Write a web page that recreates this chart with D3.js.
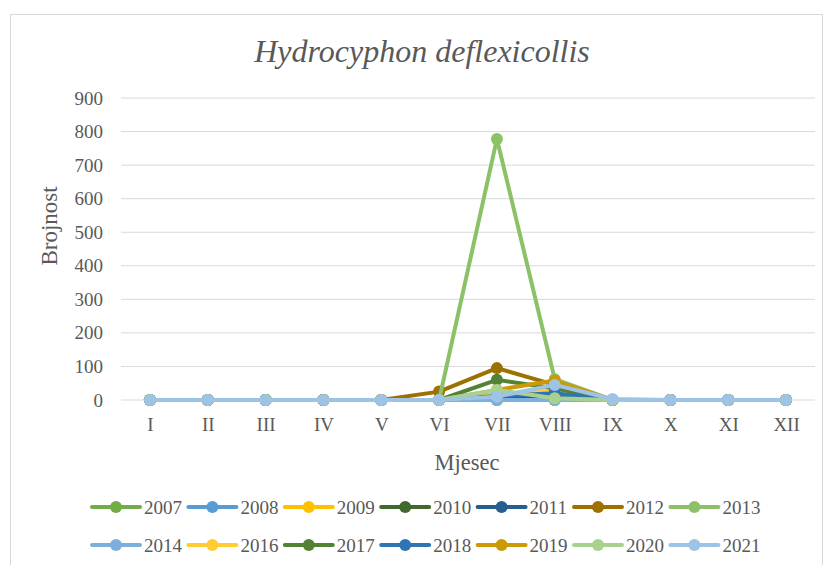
<!DOCTYPE html>
<html>
<head>
<meta charset="utf-8">
<script src="https://cdn.jsdelivr.net/npm/d3@7"></script>
<style>
  body { margin: 0; background: #fff; }
  svg text { font-family: "Liberation Serif", "Times New Roman", serif !important; fill: #595959; }
</style>
</head>
<body>
<div id="chart"></div>
<script>
// monthly counts
const months = ['I', 'II', 'III', 'IV', 'V', 'VI', 'VII', 'VIII', 'IX', 'X', 'XI', 'XII'];
const years = ['2007', '2008', '2009', '2010', '2011', '2012', '2013',
  '2014', '2016', '2017', '2018', '2019', '2020', '2021'];
const yTicks = [0, 100, 200, 300, 400, 500, 600, 700, 800, 900];

const c2007 = [0, 0, 0, 0, 0, 0, 0, 0, 0, 0, 0, 0];
const c2008 = [0, 0, 0, 0, 0, 0, 0, 0, 0, 0, 0, 0];
const c2009 = [0, 0, 0, 0, 0, 0, 0, 0, 0, 0, 0, 0];
const c2010 = [0, 0, 0, 0, 0, 0, 10, 5, 0, 0, 0, 0];
const c2011 = [0, 0, 0, 0, 0, 0, 5, 8, 0, 0, 0, 0];
const c2012 = [0, 0, 0, 0, 0, 25, 95, 45, 0, 0, 0, 0];
const c2013 = [0, 0, 0, 0, 0, 0, 778, 62, 0, 0, 0, 0];
const c2014 = [0, 0, 0, 0, 0, 0, 0, 0, 0, 0, 0, 0];
const c2016 = [0, 0, 0, 0, 0, 0, 15, 30, 0, 0, 0, 0];
const c2017 = [0, 0, 0, 0, 0, 0, 60, 35, 0, 0, 0, 0];
const c2018 = [0, 0, 0, 0, 0, 0, 12, 20, 0, 0, 0, 0];
const c2019 = [0, 0, 0, 0, 0, 0, 30, 58, 0, 0, 0, 0];
const c2020 = [0, 0, 0, 0, 0, 0, 30, 5, 0, 0, 0, 0];
const c2021 = [0, 0, 0, 0, 0, 0, 10, 45, 3, 0, 0, 0];

const colors = ['#70AD47', '#5B9BD5', '#FFC000', '#43682B', '#255E91', '#9E7000', '#8CC168',
  '#7CAFDD', '#FFCD33', '#548235', '#2E75B6', '#CC9A06', '#A9D18E', '#9DC3E6'];

const series = years.map((y, i) => ({
  name: y,
  color: colors[i],
  values: [c2007, c2008, c2009, c2010, c2011, c2012, c2013,
    c2014, c2016, c2017, c2018, c2019, c2020, c2021][i]
}));

const W = 826, H = 565;
const svg = d3.select('#chart').append('svg')
  .attr('width', W)
  .attr('height', H);

// chart frame
svg.append('rect')
  .attr('x', 10.5).attr('y', 14.5)
  .attr('width', 812).attr('height', 560)
  .attr('fill', '#fff')
  .attr('stroke', '#D9D9D9');

const x = d3.scalePoint()
  .domain(months)
  .range([121, 815])
  .padding(0.5);

const y = d3.scaleLinear()
  .domain([0, 900])
  .range([400, 98]);

// gridlines
svg.append('g')
  .selectAll('line')
  .data(yTicks.slice(1))
  .enter().append('line')
  .attr('x1', 121).attr('x2', 815)
  .attr('y1', d => y(d)).attr('y2', d => y(d))
  .attr('stroke', '#D9D9D9')
  .attr('stroke-width', 1);

// y axis labels
const yAxis = svg.append('g')
  .attr('transform', 'translate(121,0)')
  .call(d3.axisLeft(y).tickValues(yTicks).tickSize(0).tickPadding(18));
yAxis.select('.domain').remove();
yAxis.selectAll('text')
  .attr('font-size', 19)
  .attr('fill', '#595959');

// x axis
const xAxis = svg.append('g')
  .attr('transform', 'translate(0,400)')
  .call(d3.axisBottom(x).tickSize(0).tickPadding(18));
xAxis.select('.domain')
  .attr('d', 'M121,0H815')
  .attr('stroke', '#D9D9D9');
xAxis.selectAll('text')
  .attr('font-size', 19)
  .attr('fill', '#595959');

// title + axis titles
svg.append('text')
  .attr('x', 422).attr('y', 62)
  .attr('text-anchor', 'middle')
  .attr('font-size', 32)
  .attr('font-style', 'italic')
  .text('Hydrocyphon deflexicollis');

svg.append('text')
  .attr('transform', 'translate(57,226) rotate(-90)')
  .attr('text-anchor', 'middle')
  .attr('font-size', 23)
  .text('Brojnost');

svg.append('text')
  .attr('x', 467).attr('y', 470)
  .attr('text-anchor', 'middle')
  .attr('font-size', 22.5)
  .text('Mjesec');

// lines + markers
const line = d3.line()
  .x((d, i) => x(months[i]))
  .y(d => y(d));

const sg = svg.append('g')
  .selectAll('g')
  .data(series)
  .enter().append('g');

sg.append('path')
  .attr('d', d => line(d.values))
  .attr('fill', 'none')
  .attr('stroke', d => d.color)
  .attr('stroke-width', 4)
  .attr('stroke-linejoin', 'round')
  .attr('stroke-linecap', 'round');

sg.selectAll('circle')
  .data(d => d.values.map((v, i) => ({v: v, i: i, color: d.color})))
  .enter().append('circle')
  .attr('cx', d => x(months[d.i]))
  .attr('cy', d => y(d.v))
  .attr('r', 6)
  .attr('fill', d => d.color);

// legend: 7 per row
const lg = svg.append('g')
  .selectAll('g')
  .data(series)
  .enter().append('g')
  .attr('transform', (d, i) => 'translate(' + (92 + (i % 7) * 96.4) + ',' + (507 + Math.floor(i / 7) * 38) + ')');

lg.append('line')
  .attr('x1', 0).attr('x2', 48)
  .attr('stroke', d => d.color)
  .attr('stroke-width', 4)
  .attr('stroke-linecap', 'round');

lg.append('circle')
  .attr('cx', 24)
  .attr('r', 6)
  .attr('fill', d => d.color);

lg.append('text')
  .attr('x', 52)
  .attr('y', 6.5)
  .attr('font-size', 19)
  .text(d => d.name);
</script>
</body>
</html>
